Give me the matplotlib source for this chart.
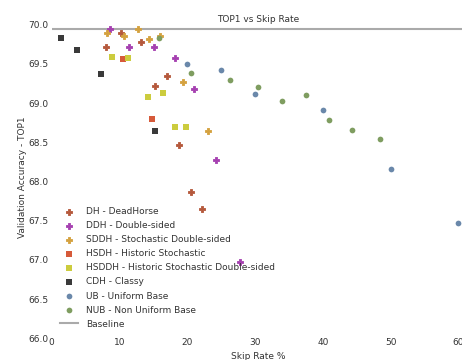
import matplotlib
matplotlib.use('Agg')
import matplotlib.pyplot as plt

# Skip rate (%) and validation TOP1 accuracy per method
dh_skip = [7.97, 10.27, 13.13, 17.01, 15.24, 18.78, 20.55, 22.18]
dh_acc = [69.72, 69.90, 69.78, 69.35, 69.22, 68.47, 67.87, 67.65]

ddh_skip = [8.60, 11.41, 15.14, 18.15, 21.04, 24.24, 27.79]
ddh_acc = [69.95, 69.72, 69.72, 69.57, 69.18, 68.28, 66.97]

sddh_skip = [8.12, 10.71, 12.69, 14.36, 15.98, 19.33, 23.03]
sddh_acc = [69.90, 69.86, 69.95, 69.82, 69.85, 69.27, 68.64]

hsdh_skip = [10.57, 14.80]
hsdh_acc = [69.56, 68.80]

hsddh_skip = [8.94, 11.30, 14.25, 16.38, 18.15, 19.77]
hsddh_acc = [69.59, 69.58, 69.08, 69.125, 68.70, 68.70]

cdh_skip = [1.37, 3.73, 7.27, 15.29]
cdh_acc = [69.83, 69.68, 69.375, 68.64]

ub_skip = [20, 25, 30, 40, 50, 60]
ub_acc = [69.50, 69.42, 69.11, 68.91, 68.16, 67.47]

nub_skip = [15.88, 20.51, 26.31, 30.44, 34.03, 37.52, 40.99, 44.36, 48.44]
nub_acc = [69.83, 69.39, 69.29, 69.20, 69.03, 69.10, 68.78, 68.66, 68.54]

baseline_acc = 69.95

series = [
    ('DH - DeadHorse', dh_skip, dh_acc, 'P', '#b5583b'),
    ('DDH - Double-sided', ddh_skip, ddh_acc, 'P', '#a53fb0'),
    ('SDDH - Stochastic Double-sided', sddh_skip, sddh_acc, 'P', '#d4a13e'),
    ('HSDH - Historic Stochastic', hsdh_skip, hsdh_acc, 's', '#d65a3a'),
    ('HSDDH - Historic Stochastic Double-sided', hsddh_skip, hsddh_acc, 's', '#cccc3e'),
    ('CDH - Classy', cdh_skip, cdh_acc, 's', '#3a3a3a'),
    ('UB - Uniform Base', ub_skip, ub_acc, 'o', '#6a88aa'),
    ('NUB - Non Uniform Base', nub_skip, nub_acc, 'o', '#7f9d60'),
]
sizes = {'P': 20, 's': 17, 'o': 17}

text_color = '#333333'
fs = 6.5
plt.rcParams['font.family'] = 'DejaVu Sans'
plt.rcParams['font.size'] = fs
plt.rcParams['text.color'] = text_color

fig = plt.figure(figsize=(4.62, 3.6), dpi=100)
ax = fig.add_axes([0.1119, 0.0603, 0.8948, 0.8972])

for label, xs, ys, marker, color in series:
    ax.scatter(xs, ys, s=sizes[marker], marker=marker, color=color,
               edgecolors=color, linewidths=0.6 if marker == 'P' else 0,
               label=label, zorder=3)

ax.axhline(baseline_acc, color='#aaaaaa', linewidth=1.5, label='Baseline', zorder=2)

ax.set_xlim(0, 61)
ax.set_ylim(66, 70.12)
ax.set_xticks([0, 10, 20, 30, 40, 50, 60])
ax.set_yticks([66.0, 66.5, 67.0, 67.5, 68.0, 68.5, 69.0, 69.5, 70.0])
ax.set_yticklabels(['66.0', '66.5', '67.0', '67.5', '68.0', '68.5', '69.0', '69.5', '70.0'])
ax.tick_params(axis='x', length=0, pad=0, colors=text_color, labelsize=fs)
ax.tick_params(axis='y', length=0, pad=2.4, colors=text_color, labelsize=fs)
for side in ax.spines.values():
    side.set_visible(False)

ax.set_title('TOP1 vs Skip Rate', fontsize=fs, y=0.979, pad=0, color=text_color)
ax.set_xlabel('Skip Rate %', fontsize=fs, labelpad=3.6, color=text_color)
ax.set_ylabel('Validation Accuracy - TOP1', fontsize=fs, labelpad=1, color=text_color)

ax.legend(loc='upper left', bbox_to_anchor=(0, 0.431), frameon=False,
          fontsize=fs, labelspacing=0.56, handlelength=2.0, handletextpad=0.9,
          scatterpoints=1)

fig.savefig('out.png', dpi=100)
